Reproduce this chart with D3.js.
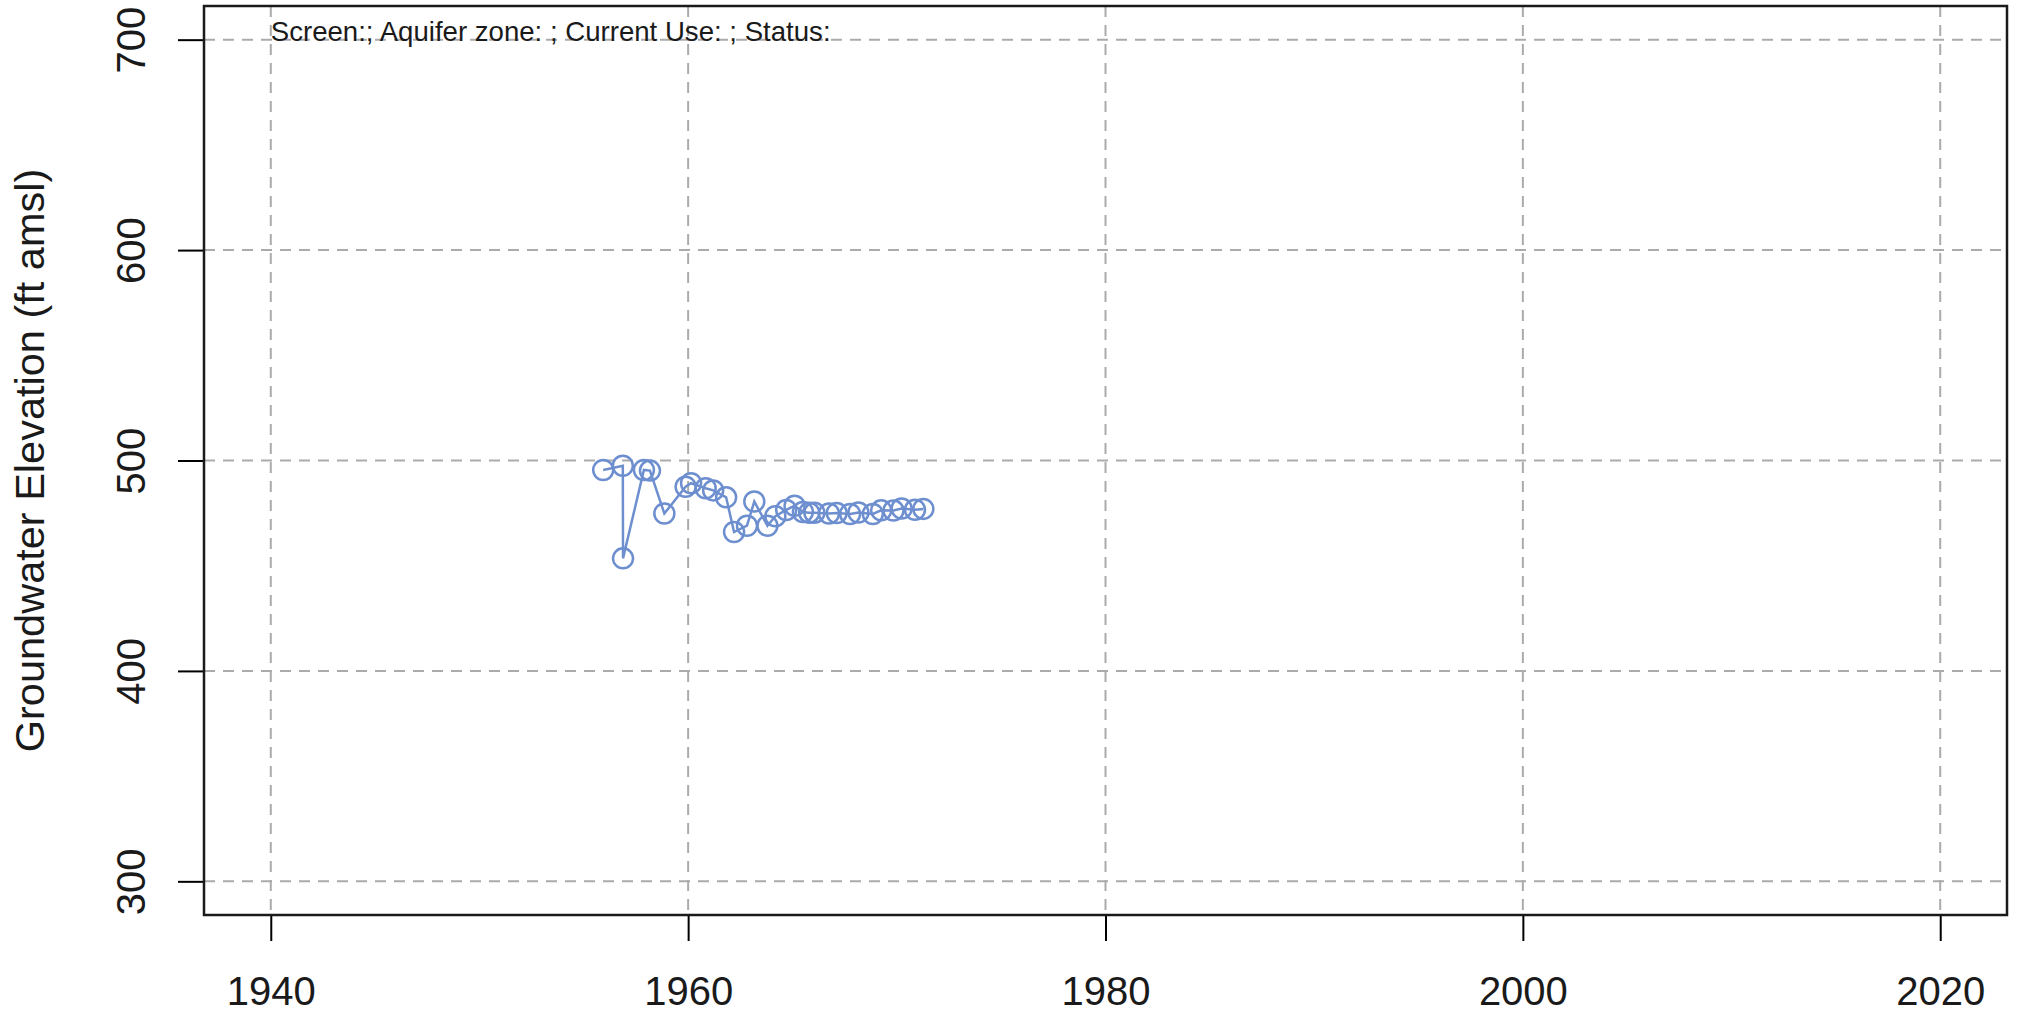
<!DOCTYPE html>
<html>
<head>
<meta charset="utf-8">
<script src="https://cdn.jsdelivr.net/npm/d3@7"></script>
<style>
    body { margin: 0; background: #fff; }
    svg { display: block; font-family: "Liberation Sans", Arial, sans-serif; }
</style>
</head>
<body>
<div id="mainChart"></div>
<script>
// measurement dates (decimal years) and groundwater elevations (ft amsl)
const dates = [
    1955.93, 1956.87, 1956.88, 1957.88, 1958.17, 1958.86, 1959.88, 1960.14,
    1960.84, 1961.20, 1961.82, 1962.20, 1962.82, 1963.17, 1963.80, 1964.18,
    1964.70, 1965.10, 1965.50, 1965.80, 1966.05, 1966.75, 1967.12, 1967.76,
    1968.16, 1968.85, 1969.25, 1969.84, 1970.23, 1970.87, 1971.27
];
const elevations = [
    495.5, 497.5, 453.5, 495.5, 495.2, 474.8, 487.5, 489.2,
    486.8, 485.8, 482.5, 466.0, 469.0, 480.5, 469.0, 473.5,
    476.5, 478.5, 475.5, 475.2, 475.2, 474.8, 475.0, 474.6,
    475.3, 474.6, 476.3, 476.2, 477.2, 476.6, 477.0
];
const xTicks = [1940, 1960, 1980, 2000, 2020];
const yTicks = [300, 400, 500, 600, 700];
const yTitle = 'Groundwater Elevation (ft amsl)';
const infoText = 'Screen:; Aquifer zone: ; Current Use: ; Status:';

const CHART_SIZE = { width: 2021, height: 1013 };
const MARGIN = { top: 6, right: 14, bottom: 98, left: 204 };
const COLOR = '#6e8fcf';

// R style: axis limits padded by 4% on each side
const pad = (lo, hi) => [lo - (hi - lo) * 0.04, hi + (hi - lo) * 0.04];

const x = d3.scaleLinear()
    .domain(pad(1940, 2020))
    .range([MARGIN.left, CHART_SIZE.width - MARGIN.right]);

const y = d3.scaleLinear()
    .domain(pad(300, 700))
    .range([CHART_SIZE.height - MARGIN.bottom, MARGIN.top]);

const svg = d3.select('#mainChart')
    .append('svg')
    .attr('width', CHART_SIZE.width)
    .attr('height', CHART_SIZE.height);

const [x0, x1] = x.range();
const [y0, y1] = y.range();

// grid
const grid = svg.append('g')
    .attr('stroke', '#ababab')
    .attr('stroke-width', 2)
    .attr('stroke-dasharray', '11,8');
grid.selectAll('.vgrid')
    .data(xTicks)
    .join('line')
    .attr('x1', d => x(d)).attr('x2', d => x(d))
    .attr('y1', y1).attr('y2', y0);
grid.selectAll('.hgrid')
    .data(yTicks)
    .join('line')
    .attr('x1', x0).attr('x2', x1)
    .attr('y1', d => y(d)).attr('y2', d => y(d));

// bottom axis
const xAxis = svg.append('g')
    .attr('transform', `translate(0, ${y0})`)
    .call(d3.axisBottom(x).tickValues(xTicks).tickFormat(d3.format('d')).tickSize(26).tickSizeOuter(0));
xAxis.select('.domain').remove();
xAxis.selectAll('line').attr('stroke', '#000').attr('stroke-width', 2);
xAxis.selectAll('text')
    .attr('y', 90)
    .attr('dy', null)
    .attr('fill', '#1a1a1a')
    .style('font-size', '40px');

// left axis, labels rotated like R's default las=0
const yAxis = svg.append('g')
    .attr('transform', `translate(${x0}, 0)`)
    .call(d3.axisLeft(y).tickValues(yTicks).tickSize(26).tickSizeOuter(0));
yAxis.select('.domain').remove();
yAxis.selectAll('line').attr('stroke', '#000').attr('stroke-width', 2);
yAxis.selectAll('text')
    .attr('x', null)
    .attr('dy', null)
    .attr('text-anchor', 'middle')
    .attr('transform', 'translate(-59, 0) rotate(-90)')
    .attr('fill', '#1a1a1a')
    .style('font-size', '40px');

svg.append('text')
    .attr('transform', `translate(44, ${(y0 + y1) / 2}) rotate(-90)`)
    .attr('text-anchor', 'middle')
    .attr('fill', '#1a1a1a')
    .style('font-size', '41.5px')
    .text(yTitle);

// plot box
svg.append('rect')
    .attr('x', x0)
    .attr('y', y1)
    .attr('width', x1 - x0)
    .attr('height', y0 - y1)
    .attr('fill', 'none')
    .attr('stroke', '#1a1a1a')
    .attr('stroke-width', 2.5);

svg.append('text')
    .attr('x', x(1940))
    .attr('y', y(700) + 1)
    .attr('fill', '#1a1a1a')
    .style('font-size', '27.6px')
    .text(infoText);

// series
const line = d3.line()
    .x(i => x(dates[i]))
    .y(i => y(elevations[i]));

svg.append('path')
    .attr('d', line(d3.range(dates.length)))
    .attr('fill', 'none')
    .attr('stroke', COLOR)
    .attr('stroke-width', 2.5);

svg.append('g')
    .selectAll('circle')
    .data(d3.range(dates.length))
    .join('circle')
    .attr('cx', i => x(dates[i]))
    .attr('cy', i => y(elevations[i]))
    .attr('r', 10)
    .attr('fill', 'none')
    .attr('stroke', COLOR)
    .attr('stroke-width', 2.5);
</script>
</body>
</html>
